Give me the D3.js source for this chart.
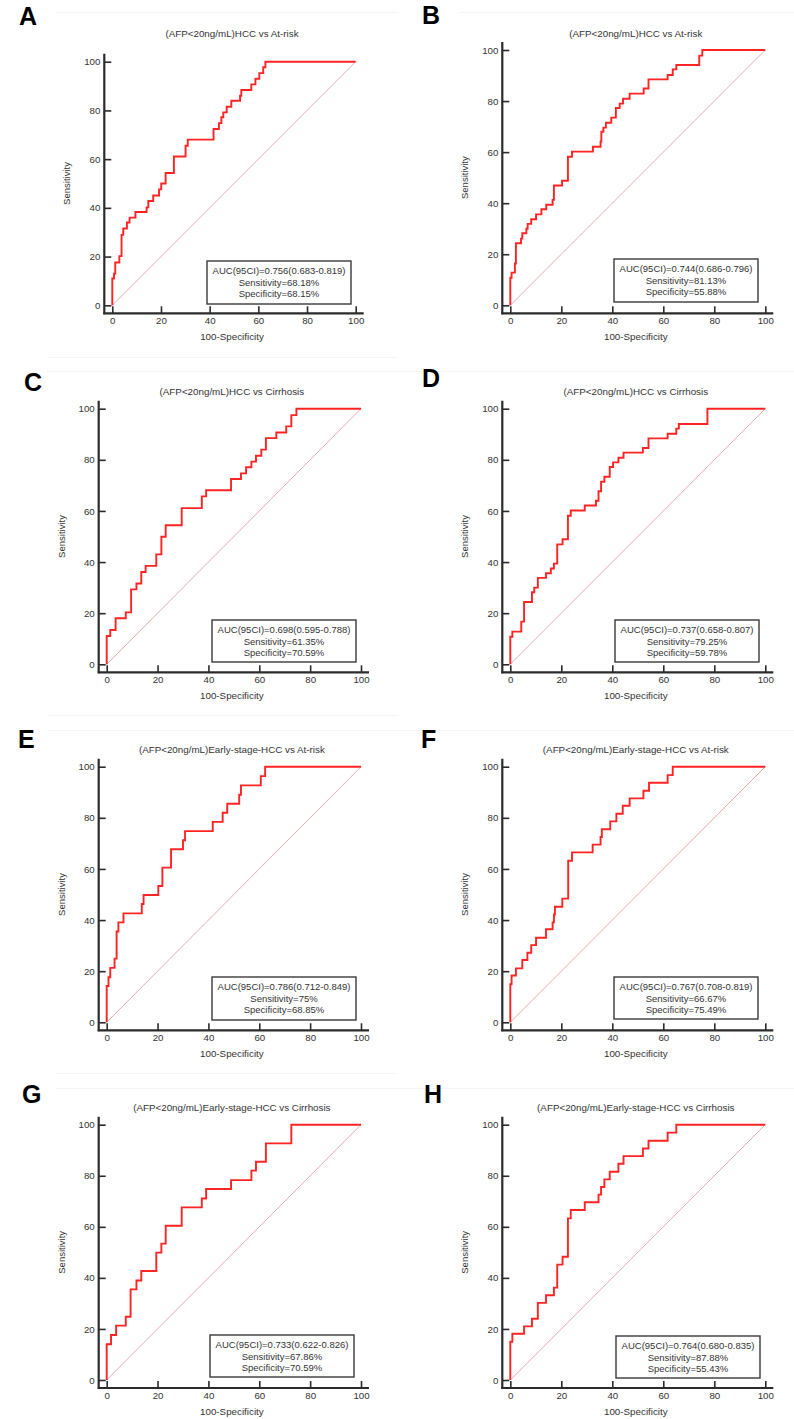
<!DOCTYPE html>
<html>
<head>
<meta charset="utf-8">
<script src="https://cdn.jsdelivr.net/npm/d3@7"></script>
<style>
html,body{margin:0;padding:0;background:#fff;}
svg{display:block;}
text{font-family:"Liberation Sans",Arial,sans-serif;}
</style>
</head>
<body>
<svg id="chart" width="794" height="1419"></svg>
<script>
// ---------- DATA ----------
const panelLetters = ["A","B","C","D","E","F","G","H"];
const panelTitles = [
  "(AFP<20ng/mL)HCC vs At-risk",
  "(AFP<20ng/mL)HCC vs At-risk",
  "(AFP<20ng/mL)HCC vs Cirrhosis",
  "(AFP<20ng/mL)HCC vs Cirrhosis",
  "(AFP<20ng/mL)Early-stage-HCC vs At-risk",
  "(AFP<20ng/mL)Early-stage-HCC vs At-risk",
  "(AFP<20ng/mL)Early-stage-HCC vs Cirrhosis",
  "(AFP<20ng/mL)Early-stage-HCC vs Cirrhosis"
];
const aucTexts = [
  "AUC(95CI)=0.756(0.683-0.819)",
  "AUC(95CI)=0.744(0.686-0.796)",
  "AUC(95CI)=0.698(0.595-0.788)",
  "AUC(95CI)=0.737(0.658-0.807)",
  "AUC(95CI)=0.786(0.712-0.849)",
  "AUC(95CI)=0.767(0.708-0.819)",
  "AUC(95CI)=0.733(0.622-0.826)",
  "AUC(95CI)=0.764(0.680-0.835)"
];
const sensTexts = ["Sensitivity=68.18%","Sensitivity=81.13%","Sensitivity=61.35%","Sensitivity=79.25%",
                   "Sensitivity=75%","Sensitivity=66.67%","Sensitivity=67.86%","Sensitivity=87.88%"];
const specTexts = ["Specificity=68.15%","Specificity=55.88%","Specificity=70.59%","Specificity=59.78%",
                   "Specificity=68.85%","Specificity=75.49%","Specificity=70.59%","Specificity=55.43%"];

const tickValues = [0,20,40,60,80,100];
const xAxisLabel = "100-Specificity";
const yAxisLabel = "Sensitivity";

// ROC step points: (100-Specificity, Sensitivity) at the top of each rise
const fprA = [0,0,0.7,1.2,2.9,3.8,4.5,6.0,7.1,9.5,14.1,14.8,16.8,19.2,20.1,21.9,25.3,30.1,31.0,41.6,43.8,44.8,45.6,47.0,48.9,52.5,53.0,57.1,58.8,60.4,62.0,62.9,100];
const tprA = [0,11,13,17.6,20.2,28.9,31.5,34,36,38.3,40.2,42.8,45.1,47.6,50,54.3,61.1,65.5,68,72.4,74.8,77.2,79.2,81.5,84,86,88.4,90.7,93,95.3,97.7,100,100];

const fprB = [0,0,0.5,1.8,2.2,4.2,4.7,6.3,6.8,8.2,10.1,12.2,14.1,16.6,17.1,20.3,22.6,24.2,32.4,35.4,35.7,36.5,37.5,39.6,41.4,42.9,44.2,46.8,52.3,54.2,61.7,63.7,65.1,74.1,75.3,100];
const tprB = [0,10.8,12.8,16.4,24.3,26.1,28.2,30,31.9,33.7,35.6,37.6,39.4,41.3,46.9,48.8,58.2,60.2,62.1,64.1,68,69.6,71.5,73.5,77.3,79,80.9,82.9,84.9,88.5,90.2,92.4,94.1,97.8,100,100];

const fprC = [0,0,1.4,3.5,7.5,9.6,11.7,13.6,15.3,19.5,21.5,23.2,29.5,37.4,39.1,48.9,52.8,54.8,56.9,58.7,60.8,62.6,66.7,70.6,72.6,74.6,100];
const tprC = [0,11.1,13.4,18,20.3,29.3,31.6,36.1,38.5,43,49.9,54.4,61.1,65.7,68.1,72.5,74.7,77.1,79.3,81.6,84,88.5,90.7,93.1,97.5,100,100];

const fprD = [0,0,0.8,4.3,5.4,8.5,9.4,10.8,14,15.9,17.1,18.4,20.5,22.6,23.7,29.2,33.6,34.6,35.6,36.9,39,40.3,42.4,44.4,52,54.2,61.7,65.1,66.1,77.3,100];
const tprD = [0,10.8,12.8,16.7,24.4,28.2,30,33.8,35.6,37.5,39.4,46.9,48.9,58.1,60.2,62.1,64,67.7,71.4,73.4,77.2,79,80.8,82.8,84.6,88.4,90.2,92.2,94,100,100];

const fprE = [0,0,0.7,1.4,3.1,3.9,4.6,6.6,13.8,14.5,20.3,21.9,25.3,30,30.8,41.7,45.6,47.4,52.1,52.8,60.6,62.3,100];
const tprE = [0,14.2,17.6,21.3,24.9,35.5,39.1,42.6,46.3,49.8,53.3,60.5,67.7,71.2,74.8,78.4,82,85.5,89,92.7,96.3,100,100];

const fprF = [0,0,0.5,2.2,4.7,6.7,8.2,10.1,14,16.6,17.1,17.5,20.4,22.7,24.2,32.3,35.4,35.9,39.2,41.6,44.1,46.8,52.2,54.4,61.7,63.7,100];
const tprF = [0,14.9,18.3,21.1,24.4,27.2,30.2,33.1,36.4,39.1,42.2,45.2,48.4,63.2,66.5,69.5,72.5,75.5,78.6,81.6,84.7,87.6,90.6,93.7,96.7,100,100];

const fprG = [0,0,1.7,3.7,7.5,9.4,11.7,13.6,19.5,21.5,23.2,29.5,37.4,39.1,48.9,56.9,58.7,62.6,72.6,100];
const tprG = [0,14,17.6,21.3,24.8,35.5,39,42.7,49.9,53.4,60.4,67.6,71.1,74.8,78.3,82,85.5,92.7,100,100];

const fprH = [0,0,0.8,5.4,8.5,10.8,14,17.1,18.4,20.5,22.6,23.7,29.2,34.6,35.6,36.9,39,42.4,44.4,52,54.2,61.7,65.1,100];
const tprH = [0,15,18.1,21,24,30.2,33.2,36.2,45.2,48.3,63.3,66.6,69.6,72.6,75.6,78.6,81.6,84.7,87.7,90.7,93.7,96.9,100,100];

const fprList = [fprA,fprB,fprC,fprD,fprE,fprF,fprG,fprH];
const tprList = [tprA,tprB,tprC,tprD,tprE,tprF,tprG,tprH];

// ---------- LAYOUT (pixel geometry of each panel) ----------
const layout = [
  {x0:112.3,x1:355.7,yT:61.7, yB:305.3, box:[207,261,351,304], letter:[19,25],  titleY:37},
  {x0:510.3,x1:765.3,yT:50,   yB:305.3, box:[614,259,758,302], letter:[422,24], titleY:37},
  {x0:106.7,x1:361,  yT:408.7,yB:664.3, box:[212,620,356,662], letter:[24,391], titleY:395},
  {x0:510.3,x1:765.3,yT:408.7,yB:664.3, box:[615,620,759,662], letter:[422,387],titleY:395},
  {x0:106.7,x1:361,  yT:766.7,yB:1022.3,box:[212,977,356,1020],letter:[18,748], titleY:753},
  {x0:510.3,x1:765.3,yT:766.7,yB:1022.3,box:[614,977,758,1019],letter:[421,748],titleY:753},
  {x0:106.7,x1:361,  yT:1124.7,yB:1380,box:[210,1335,354,1377],letter:[22,1103],titleY:1111},
  {x0:510.3,x1:765.3,yT:1124.7,yB:1380,box:[616,1336,760,1378],letter:[424,1103],titleY:1111}
];
const gap = 8;
const textColor = "#333";
const axisColor = "#2b2b2b";

const svg = d3.select("#chart");

// faint separator lines (as in the source figure)
const sepLines = [[55,12,397],[460,12,794],[47,357,397],[47,371,794],[47,715,397],[47,730,794],[55,1073,397],[55,1088,794]];
svg.append("g").selectAll("line").data(sepLines).join("line")
  .attr("x1",d=>d[0]).attr("x2",d=>d[2]).attr("y1",d=>d[1]+0.5).attr("y2",d=>d[1]+0.5)
  .attr("stroke","#f4f4f4").attr("stroke-width",1);

layout.forEach((L,i)=>{
  const g = svg.append("g");
  const x = d3.scaleLinear().domain([0,100]).range([L.x0,L.x1]);
  const y = d3.scaleLinear().domain([0,100]).range([L.yB,L.yT]);
  const axX = L.x0 - gap, axY = L.yB + gap;

  // panel letter
  g.append("text").attr("x",L.letter[0]).attr("y",L.letter[1])
    .attr("font-size",25).attr("font-weight","bold").attr("fill","#000")
    .text(panelLetters[i]);

  // title
  g.append("text").attr("x",(L.x0+L.x1)/2 - 2).attr("y",L.titleY)
    .attr("text-anchor","middle").attr("font-size",9.8).attr("fill",textColor)
    .text(panelTitles[i]);

  // diagonal reference
  g.append("line")
    .attr("x1",x(0)).attr("y1",y(0)).attr("x2",x(100)).attr("y2",y(100))
    .attr("stroke","#e3a2a2").attr("stroke-width",0.9);

  // axes (ticks inward)
  const xa = g.append("g").attr("transform",`translate(0,${axY})`)
    .call(d3.axisBottom(x).tickValues(tickValues).tickSizeInner(-7).tickSizeOuter(0).tickPadding(4));
  const ya = g.append("g").attr("transform",`translate(${axX},0)`)
    .call(d3.axisLeft(y).tickValues(tickValues).tickSizeInner(-7).tickSizeOuter(0).tickPadding(4));
  [xa,ya].forEach(a=>{
    a.select(".domain").remove();
    a.selectAll(".tick line").attr("stroke",axisColor).attr("stroke-width",1.6);
    a.selectAll(".tick text").attr("font-size",9.7).attr("fill",textColor)
      .attr("font-family","'Liberation Sans',Arial,sans-serif");
  });
  // axis lines
  g.append("line").attr("x1",axX).attr("x2",axX).attr("y1",L.yT-gap).attr("y2",axY+1)
    .attr("stroke",axisColor).attr("stroke-width",2.2);
  g.append("line").attr("x1",axX-1).attr("x2",L.x1+gap).attr("y1",axY).attr("y2",axY)
    .attr("stroke",axisColor).attr("stroke-width",2.2);

  // axis labels
  g.append("text").attr("x",(L.x0+L.x1)/2 - 2).attr("y",axY+27)
    .attr("text-anchor","middle").attr("font-size",9.8).attr("fill",textColor)
    .text(xAxisLabel);
  g.append("text")
    .attr("transform",`translate(${axX-34},${(L.yT+L.yB)/2}) rotate(-90)`)
    .attr("text-anchor","middle").attr("font-size",9.5).attr("fill",textColor)
    .text(yAxisLabel);

  // ROC step curve
  const pts = fprList[i].map((f,k)=>[f,tprList[i][k]]);
  const line = d3.line().x(d=>x(d[0])).y(d=>y(d[1])).curve(d3.curveStepAfter);
  g.append("path").attr("d",line(pts)).attr("fill","none")
    .attr("stroke","#ff2424").attr("stroke-width",1.9).attr("stroke-linejoin","miter");

  // legend box
  const [bx0,by0,bx1,by1] = L.box;
  g.append("rect").attr("x",bx0).attr("y",by0).attr("width",bx1-bx0).attr("height",by1-by0)
    .attr("fill","#fff").attr("stroke","#3a3a3a").attr("stroke-width",1.4);
  const cx = (bx0+bx1)/2;
  [aucTexts[i],sensTexts[i],specTexts[i]].forEach((t,k)=>{
    g.append("text").attr("x",cx).attr("y",by0+13+k*11.6)
      .attr("text-anchor","middle").attr("font-size",9.5).attr("fill",textColor)
      .text(t);
  });
});
</script>
</body>
</html>
